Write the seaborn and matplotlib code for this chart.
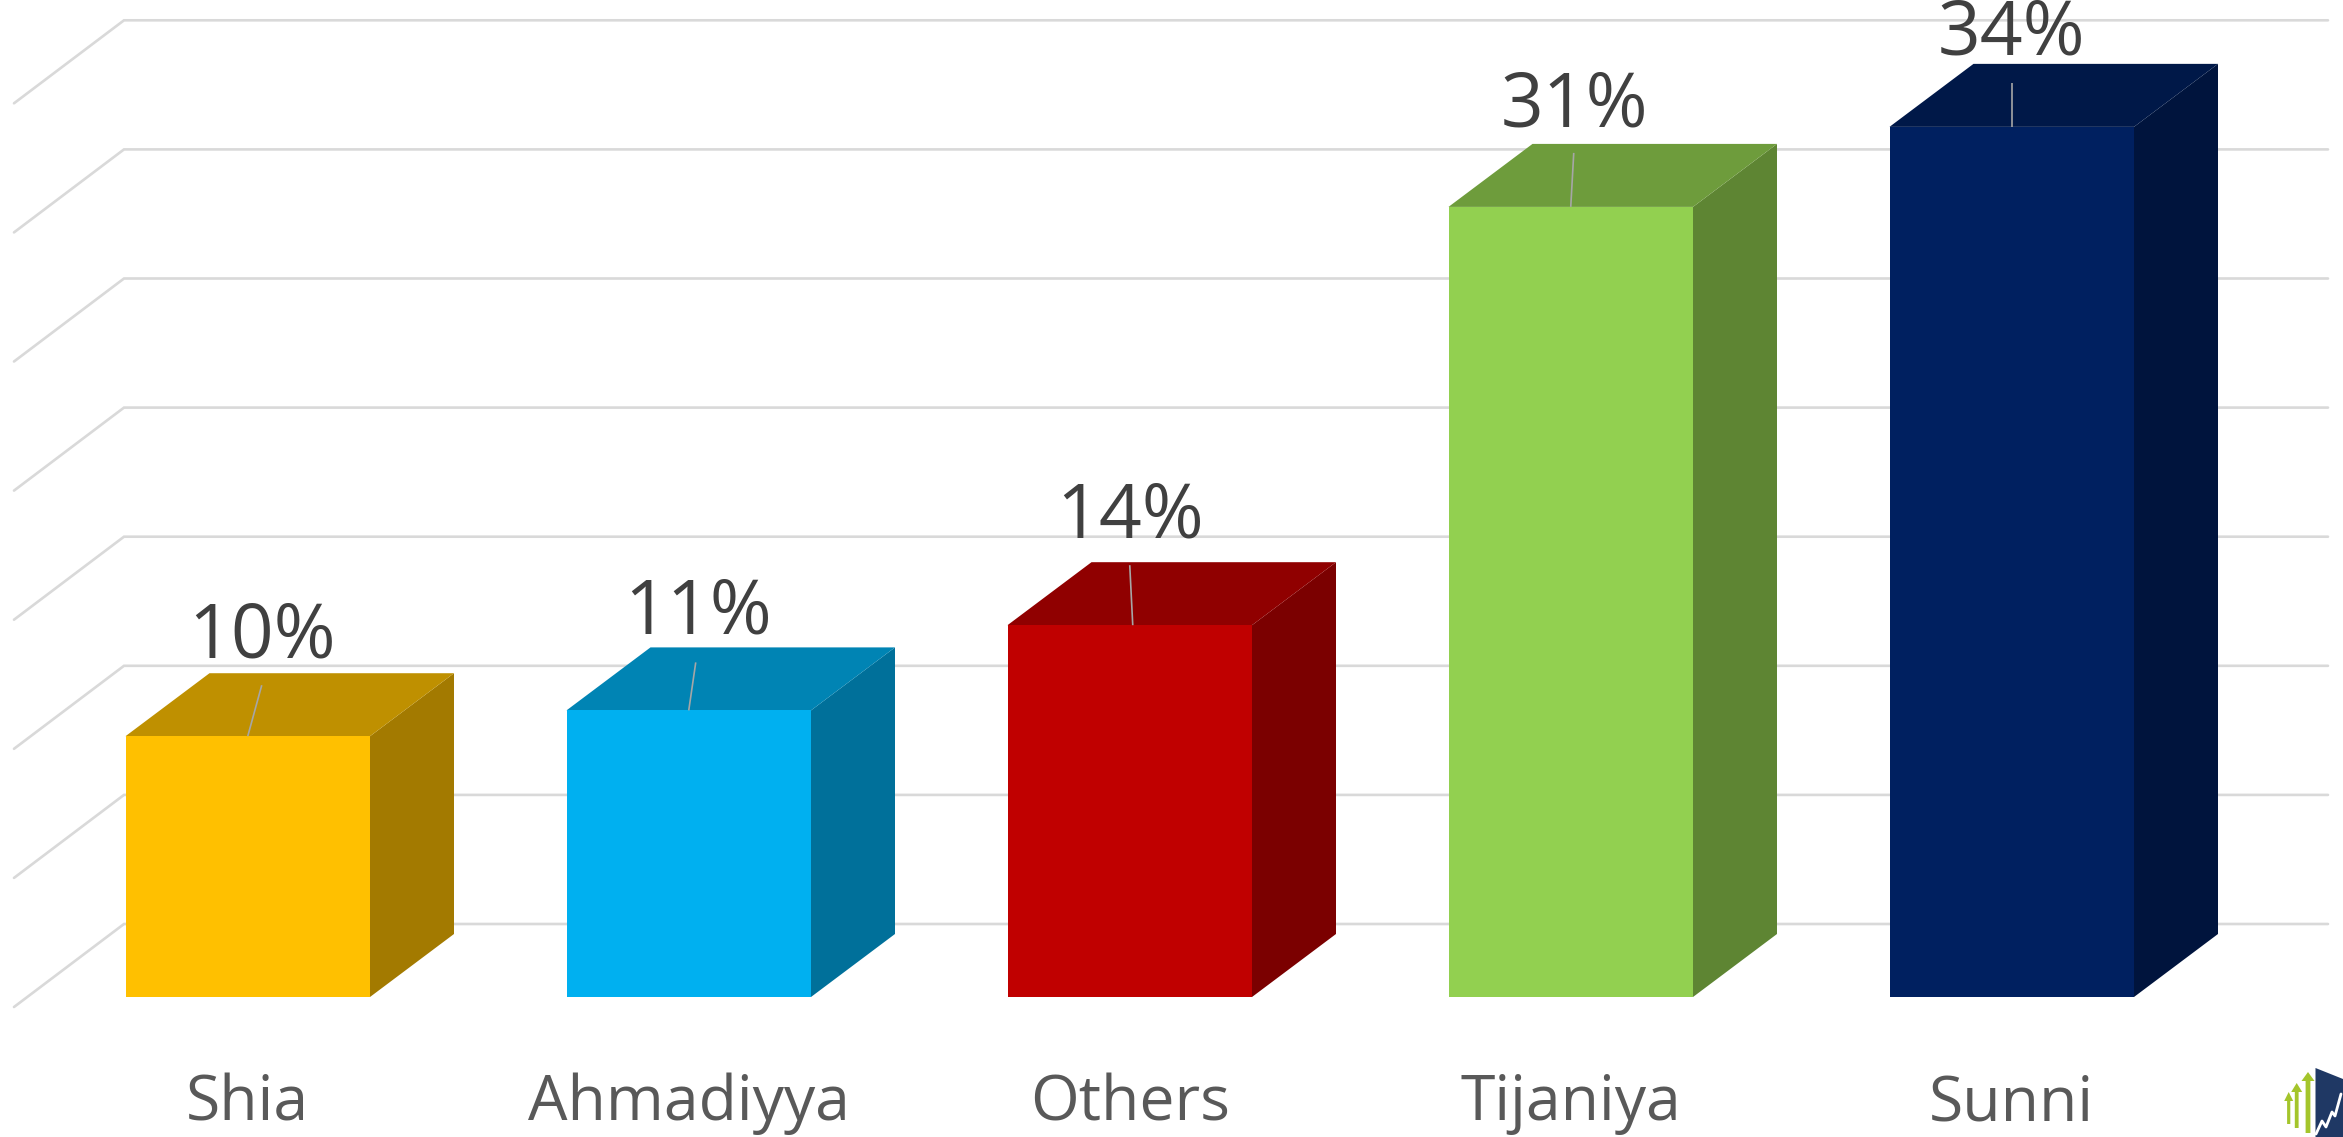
import matplotlib
matplotlib.use("Agg")
import matplotlib.pyplot as plt
from matplotlib.patches import Polygon
from matplotlib.lines import Line2D
import pandas as pd
import seaborn as sns

categories = ["Shia", "Ahmadiyya", "Others", "Tijaniya", "Sunni"]
values = [10.1, 11.1, 14.4, 30.6, 33.7]
labels = ["10%", "11%", "14%", "31%", "34%"]
front_colors = ["#FFC000", "#00B0F0", "#C00000", "#92D050", "#002060"]
top_colors = ["#BF9000", "#0084B4", "#900000", "#6E9C3C", "#001848"]
side_colors = ["#A37A00", "#00709A", "#7B0000", "#5E8533", "#00143D"]
grid_levels = [0, 5, 10, 15, 20, 25, 30, 35]

W, H = 2343, 1137
PX_PER_UNIT_X, PX_PER_UNIT_Y = 441.0, 25.82
X0_PX, Y0_PX = 247.75, 997.0
AX_BOTTOM_PX = 1020.0

sns.set_theme(style="white")
plt.rcParams["font.family"] = ["Open Sans", "DejaVu Sans"]

fig = plt.figure(figsize=(W / 100, H / 100), dpi=100, facecolor="white")
ax = fig.add_axes([0, (H - AX_BOTTOM_PX) / H, 1, AX_BOTTOM_PX / H])

df = pd.DataFrame({"category": categories, "value": values})
sns.barplot(data=df, x="category", y="value", hue="category",
            palette=dict(zip(categories, front_colors)), legend=False,
            width=244.5 / PX_PER_UNIT_X, saturation=1, linewidth=0,
            zorder=4, ax=ax)

ax.set_xlim(-X0_PX / PX_PER_UNIT_X, (W - X0_PX) / PX_PER_UNIT_X)
ax.set_ylim((Y0_PX - AX_BOTTOM_PX) / PX_PER_UNIT_Y, Y0_PX / PX_PER_UNIT_Y)
ax.set_xlabel("")
ax.set_ylabel("")
ax.set_yticks([])
ax.set_xticks(range(len(categories)))
ax.set_xticklabels(categories, fontsize=45, color="#595959")
ax.tick_params(axis="x", length=0, pad=38)
sns.despine(ax=ax, left=True, bottom=True)

def ux(px):
    return (px - X0_PX) / PX_PER_UNIT_X

def uy(px):
    return (Y0_PX - px) / PX_PER_UNIT_Y

# Gridlines on the back wall and the side wall of the 3-D box
WALL_Y = uy(924)
FRONT_DY = 83 / PX_PER_UNIT_Y
for level in grid_levels:
    yb = WALL_Y + level * 1.0
    ax.add_line(Line2D([ux(14), ux(124), ux(2328)], [yb - FRONT_DY, yb, yb],
                       color="#D9D9D9", lw=1.9, zorder=1, clip_on=False,
                       solid_joinstyle="miter"))

# Depth faces of each bar
half = 244.5 / PX_PER_UNIT_X / 2
dx = 84 / PX_PER_UNIT_X
dy = 63 / PX_PER_UNIT_Y
for i, v in enumerate(values):
    ax.add_patch(Polygon([(i + half, 0), (i + half + dx, dy), (i + half + dx, v + dy), (i + half, v)],
                         closed=True, fc=side_colors[i], ec="none", zorder=3))
    ax.add_patch(Polygon([(i - half, v), (i - half + dx, v + dy), (i + half + dx, v + dy), (i + half, v)],
                         closed=True, fc=top_colors[i], ec="none", zorder=3))

# Data labels with leader lines (offsets in pixels from the bar's top centre)
label_dx = [14, 9, 0, 4, 0]
label_dy = [98, 96, 107, 100, 92]
leader_start_dx = [0, 0, 3, 0, 0]
leader_end_dx = [14, 7, 0, 3, 0]
leader_end_dy = [51, 48, 60, 54, 44]
to_pt = 72 / 100
for i, v in enumerate(values):
    x_start = i + leader_start_dx[i] / PX_PER_UNIT_X
    x_end = i + leader_end_dx[i] / PX_PER_UNIT_X
    ax.plot([x_start, x_end], [v, v + leader_end_dy[i] / PX_PER_UNIT_Y],
            color="#A6A6A6", lw=1.2, zorder=5, solid_capstyle="butt")
    ax.annotate(labels[i], xy=(i, v),
                xytext=(label_dx[i] * to_pt, label_dy[i] * to_pt),
                textcoords="offset points", ha="center", va="center",
                fontsize=54, color="#404040", zorder=6, annotation_clip=False)

# Small logo at the lower right corner, in figure pixels
def fig_xy(pts):
    return [(x / W, 1 - y / H) for x, y in pts]

fig.add_artist(Polygon(fig_xy([(2315.5, 1068), (2343, 1079), (2343, 1137), (2315.5, 1137)]),
                       closed=True, fc="#1F3864", ec="none", transform=fig.transFigure))
fig.add_artist(Line2D(*zip(*fig_xy([(2316, 1134), (2322, 1121), (2326, 1127), (2332, 1112),
                                    (2335, 1116), (2341, 1094)])),
                      color="white", lw=2, transform=fig.transFigure))
for cx, y_bot, y_top, hw, sw in [(2288.7, 1124, 1092, 3.5, 1.6), (2296.7, 1128, 1083, 4.5, 1.9), (2308, 1133, 1072, 5.5, 2.4)]:
    fig.add_artist(Polygon(fig_xy([(cx - sw, y_bot), (cx - sw, y_top + 9), (cx - hw - 1, y_top + 9), (cx, y_top),
                                   (cx + hw + 1, y_top + 9), (cx + sw, y_top + 9), (cx + sw, y_bot)]),
                           closed=True, fc="#A4C52B", ec="none", transform=fig.transFigure))

fig.savefig("out.png", dpi=100, facecolor="white")
